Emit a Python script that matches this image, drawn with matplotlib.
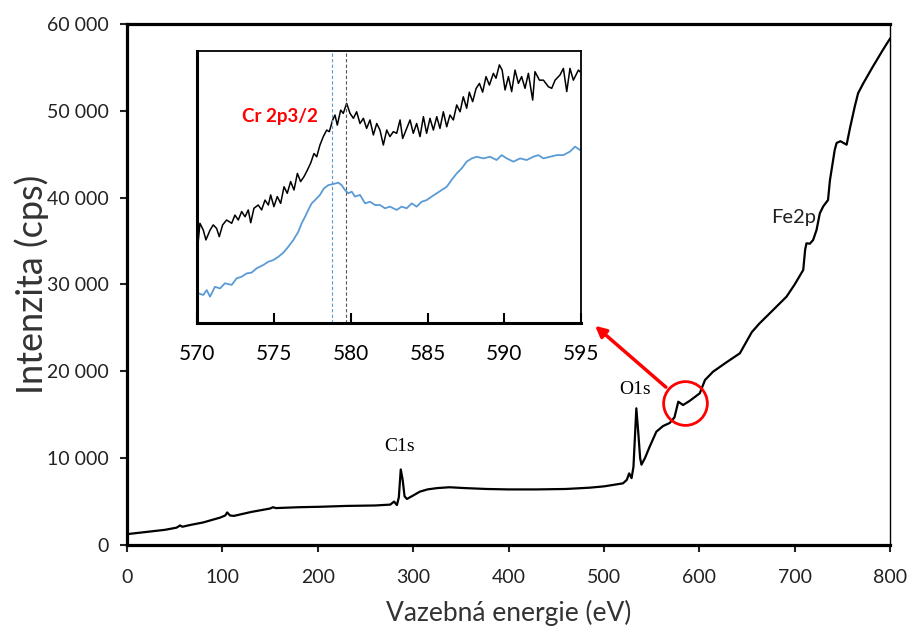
import matplotlib
matplotlib.use("Agg")
import matplotlib.pyplot as plt
from matplotlib.ticker import FuncFormatter

plt.rcParams['font.family'] = ['Lato', 'DejaVu Sans']

# survey spectrum (binding energy eV, intensity cps)
survey_ev = [0, 20, 40, 52, 55.6, 58, 66, 80, 97.5, 103, 105, 108, 112, 130, 150, 153, 156,
             180, 202, 230, 260, 276, 280, 283, 285, 287, 289, 291, 293.5, 300, 307, 315,
             325, 338, 355, 377, 400, 429, 460, 485, 500, 520, 524, 526.5, 529, 531, 534,
             536, 538, 539.4, 543, 548, 555, 562, 569, 574, 578, 583, 590, 600.5, 606,
             614.5, 628, 642.6, 655, 663, 675, 691.5, 700, 709, 711, 712.4, 716, 719.4,
             723, 726.4, 730, 735, 737, 742, 744, 748, 754.5, 758, 763, 766.5, 772, 782,
             792.5, 798, 800]
survey_cps = [1250, 1500, 1750, 2000, 2250, 2100, 2300, 2600, 3150, 3400, 3750, 3400, 3350,
              3800, 4200, 4350, 4250, 4350, 4400, 4500, 4550, 4650, 5000, 4600, 5500, 8700,
              7500, 5600, 5300, 5700, 6140, 6400, 6550, 6650, 6550, 6450, 6400, 6400, 6450,
              6600, 6750, 7100, 7500, 8250, 7700, 9000, 15740, 13000, 10000, 9250, 10000,
              11320, 13050, 13700, 14050, 14700, 16500, 16120, 16600, 17470, 19000, 19960,
              21000, 22080, 24500, 25500, 26800, 28600, 30000, 31670, 34000, 34740, 34700,
              35130, 36300, 38200, 39000, 39730, 42000, 45490, 46300, 46500, 46100, 48000,
              50480, 52020, 53170, 55090, 57010, 57970, 58300]

# Cr 2p3/2 detail (arbitrary units)
cr_ev_black = [570.07, 570.17, 570.39, 570.56, 570.83, 571.04, 571.26, 571.43, 571.65, 571.91,
               572.24, 572.45, 572.67, 572.89, 573.11, 573.32, 573.48, 573.69, 573.97, 574.19,
               574.41, 574.63, 574.78, 574.99, 575.21, 575.43, 575.65, 575.86, 576.08, 576.30,
               576.52, 576.73, 576.95, 577.17, 577.38, 577.60, 577.78, 577.99, 578.21, 578.43,
               578.60, 578.82, 578.97, 579.12, 579.34, 579.51, 579.73, 579.95, 580.17, 580.38,
               580.60, 580.82, 581.03, 581.25, 581.47, 581.69, 581.90, 582.12, 582.34, 582.55,
               582.77, 582.99, 583.21, 583.38, 583.60, 583.86, 584.07, 584.29, 584.51, 584.73,
               584.94, 585.16, 585.38, 585.60, 585.81, 586.03, 586.25, 586.46, 586.68, 586.90,
               587.12, 587.33, 587.55, 587.72, 587.94, 588.16, 588.38, 588.59, 588.81, 589.03,
               589.29, 589.46, 589.68, 589.86, 590.05, 590.27, 590.48, 590.70, 590.92, 591.13,
               591.35, 591.57, 591.85, 592.00, 592.29, 592.55, 592.87, 593.09, 593.31, 593.63,
               593.85, 594.07, 594.28, 594.50, 594.83, 594.93]
cr_black = [30.6, 36.7, 34.2, 30.6, 34.2, 36.1, 34.8, 31.8, 36.1, 37.9, 36.7, 39.7, 37.9, 41.0,
            39.1, 41.6, 36.9, 42.2, 43.4, 41.6, 45.2, 43.4, 47.1, 42.8, 46.5, 44.0, 50.1, 47.7,
            52.0, 48.9, 55.0, 52.0, 53.8, 56.2, 58.7, 62.3, 61.1, 65.4, 68.5, 70.9, 70.3, 74.6,
            76.4, 72.7, 78.2, 77.0, 80.7, 77.0, 75.2, 77.6, 73.3, 75.2, 71.5, 74.6, 69.1, 73.3,
            70.9, 65.4, 70.9, 68.5, 70.3, 69.7, 74.6, 67.8, 70.9, 74.6, 69.7, 73.3, 68.5, 75.8,
            69.7, 75.2, 70.9, 75.8, 71.5, 77.6, 72.1, 76.4, 74.6, 80.1, 77.6, 83.1, 78.9, 84.8,
            81.3, 86.1, 88.0, 84.8, 90.5, 87.4, 91.7, 89.9, 94.8, 92.9, 85.6, 90.5, 85.0, 92.9,
            88.0, 90.5, 86.2, 91.7, 81.9, 92.3, 89.2, 89.2, 86.8, 86.2, 89.2, 91.1, 93.5, 85.0,
            93.5, 89.2, 92.9, 92.3]
cr_ev_blue = [570.07, 570.39, 570.61, 570.83, 571.15, 571.48, 571.80, 572.24, 572.56, 572.89,
              573.21, 573.54, 573.87, 574.30, 574.63, 574.95, 575.28, 575.60, 575.93, 576.26,
              576.58, 576.80, 577.02, 577.23, 577.45, 577.67, 577.99, 578.25, 578.54, 578.86,
              579.19, 579.40, 579.62, 579.84, 580.06, 580.27, 580.60, 580.93, 581.25, 581.58,
              581.90, 582.23, 582.55, 582.99, 583.31, 583.64, 583.97, 584.29, 584.62, 584.94,
              585.27, 585.60, 585.92, 586.25, 586.57, 586.90, 587.22, 587.55, 587.88, 588.20,
              588.64, 589.07, 589.50, 589.83, 590.16, 590.59, 591.03, 591.46, 591.89, 592.22,
              592.55, 592.98, 593.42, 593.85, 594.28, 594.61, 594.93]
cr_blue = [11.0, 10.4, 12.2, 9.8, 13.4, 12.8, 14.7, 14.1, 16.5, 17.1, 18.3, 18.6, 20.2, 21.4,
           22.6, 23.2, 24.4, 25.9, 28.1, 30.6, 33.6, 36.7, 39.1, 41.6, 44.0, 45.2, 47.1, 49.5,
           50.7, 51.1, 51.6, 50.7, 48.9, 47.7, 48.3, 46.5, 47.1, 44.0, 44.6, 43.4, 43.4, 42.2,
           42.8, 41.6, 42.8, 42.2, 44.0, 42.8, 44.6, 45.2, 46.5, 47.7, 48.9, 50.1, 52.6, 55.0,
           56.8, 59.3, 60.5, 61.1, 60.5, 61.1, 59.9, 61.7, 60.5, 59.3, 60.5, 59.9, 61.1, 61.7,
           60.5, 61.1, 61.7, 61.7, 63.0, 64.8, 63.6]
cr_peak_blue = 578.8
cr_peak_black = 579.67

peak_labels = ['C1s', 'O1s', 'Fe2p']
peak_pos = [(286, 11340), (532.6, 17850), (699, 37660)]

fig = plt.figure(figsize=(9.08, 6.26), dpi=100)
ax = fig.add_axes([0.1399, 0.1294, 0.8403, 0.8323])
ax.plot(survey_ev, survey_cps, color='black', lw=1.6)
ax.set_xlim(0, 800)
ax.set_ylim(0, 60000)
ax.set_xticks(range(0, 801, 100))
ax.set_yticks(range(0, 60001, 10000))
ax.yaxis.set_major_formatter(FuncFormatter(lambda v, p: f"{int(v):,}".replace(',', ' ')))
ax.tick_params(direction='out', length=5, width=1.5, labelsize=14, colors='#222222')
ax.tick_params(axis='x', pad=12)
ax.tick_params(axis='y', pad=8)
for s in ['left', 'bottom', 'top']:
    ax.spines[s].set_linewidth(2.3)
ax.spines['right'].set_linewidth(1.0)
ax.set_xlabel('Vazebná energie (eV)', fontsize=19, color='#333333', labelpad=10)
ax.set_ylabel('Intenzita (cps)', fontsize=26, color='#333333')
ax.yaxis.set_label_coords(-0.102, 0.5)

ax.text(*peak_pos[0], peak_labels[0], family='Liberation Serif', fontsize=14, ha='center', va='center')
ax.text(*peak_pos[1], peak_labels[1], family='Liberation Serif', fontsize=14, ha='center', va='center')
ax.text(*peak_pos[2], peak_labels[2], fontsize=14.5, ha='center', va='center', color='#222222')

# red circle and arrow to the inset
ax.plot([585.4], [16354], 'o', ms=31.5, mfc='none', mec='red', mew=2)
ax.annotate('', xy=(488.6, 25452), xytext=(567.2, 17966),
            arrowprops=dict(arrowstyle='-|>', color='red', lw=2.5, mutation_scale=16))

ins = fig.add_axes([0.2173, 0.4835, 0.4226, 0.4355])
ins.plot(cr_ev_black, cr_black, color='black', lw=1.1)
ins.plot(cr_ev_blue, cr_blue, color='#5b9bd5', lw=1.3)
ins.axvline(cr_peak_blue, color='#5b9bd5', lw=0.8, ls=(0, (3, 2)))
ins.axvline(cr_peak_black, color='#555555', lw=0.8, ls=(0, (3, 2)))
ins.set_xlim(570, 595)
ins.set_ylim(0, 100)
ins.set_xticks(range(570, 596, 5))
ins.set_yticks([])
ins.tick_params(axis='x', direction='in', length=7, width=1.5, labelsize=15, pad=15)
ins.spines['left'].set_linewidth(2.2)
ins.spines['bottom'].set_linewidth(2.2)
ins.spines['top'].set_linewidth(1.3)
ins.spines['right'].set_linewidth(1.3)
ins.text(575.4, 76, 'Cr 2p3/2', color='red', fontsize=13.5, fontweight='bold', ha='center', va='center')

fig.savefig('out.png', dpi=100)
